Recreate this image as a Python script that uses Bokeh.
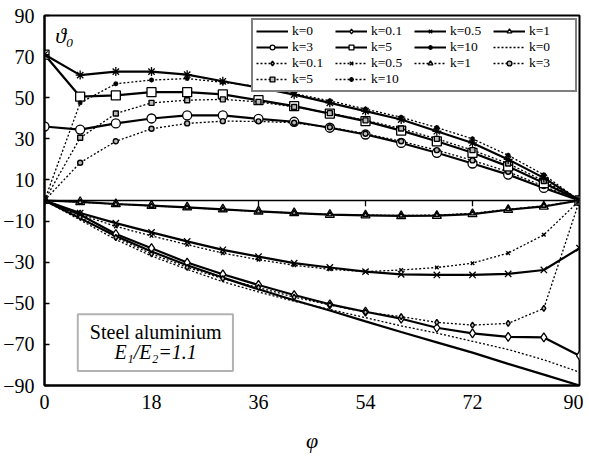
from bokeh.plotting import figure
from bokeh.models import Range1d, Legend, LegendItem, Label, BoxAnnotation, FixedTicker, Span
from bokeh.embed import file_html
from bokeh.resources import INLINE

# ---------------- data ----------------
phi = [0, 6, 12, 18, 24, 30, 36, 42, 48, 54, 60, 66, 72, 78, 84, 90]

# solid curves
k0_s = [0, -8.7, -17.3, -24.8, -31.5, -37.5, -43.2, -48.5, -53.5, -58.8, -64.0, -69.0, -74.0, -79.5, -84.7, -90]
k01_s = [0, -6.9, -16.3, -23.2, -30.2, -35.9, -41.1, -46.0, -50.5, -54.1, -57.5, -61.9, -64.6, -66.3, -66.6, -75.5]
k05_s = [0, -6.1, -11.0, -15.5, -19.9, -24.0, -27.3, -30.5, -32.6, -34.6, -35.9, -36.2, -36.2, -35.7, -33.8, -23.2]
k1_s = [0, -0.7, -1.7, -2.5, -3.3, -4.3, -5.3, -6.1, -6.9, -7.2, -7.5, -7.4, -6.6, -4.5, -2.9, 0]
k3_s = [36, 34.5, 37.5, 39.9, 41.4, 41.4, 39.7, 38.3, 35.4, 32.1, 28.0, 23.2, 18.0, 12.6, 6.1, 0]
k5_s = [71, 50.5, 51.1, 52.7, 52.7, 51.6, 48.8, 45.9, 42.3, 38.6, 34.0, 28.8, 23.2, 16.6, 8.5, 0]
k10_s = [71, 61.0, 62.7, 62.7, 61.2, 58.0, 55.0, 51.5, 47.5, 43.5, 39.4, 33.7, 28.0, 20.0, 11.0, 0]

# dotted curves
k0_d = [0, -9.5, -19.0, -27.0, -33.5, -39.5, -44.5, -49.0, -53.0, -57.0, -61.0, -64.5, -68.5, -72.5, -77.5, -83.5]
k01_d = [0, -8.0, -18.0, -26.0, -32.5, -38.0, -42.3, -47.0, -50.8, -54.3, -56.5, -59.3, -60.6, -59.8, -52.5, 0]
k05_d = [0, -6.8, -12.6, -17.2, -21.5, -25.6, -28.8, -31.5, -33.5, -34.6, -33.8, -32.6, -30.5, -25.6, -16.7, 0]
k1_d = [0, -0.8, -1.8, -2.6, -3.4, -4.4, -5.3, -6.1, -6.8, -7.1, -7.3, -7.1, -6.3, -4.3, -2.6, 0]
k3_d = [0, 18.4, 28.8, 34.9, 37.5, 38.6, 38.5, 37.8, 35.6, 32.5, 28.8, 24.5, 19.5, 14.0, 7.0, 0]
k5_d = [0, 30.5, 42.3, 47.5, 48.8, 49.2, 48.0, 45.5, 42.5, 39.0, 35.0, 30.0, 24.5, 18.0, 9.5, 0]
k10_d = [0, 47.5, 56.8, 58.6, 59.3, 57.5, 55.5, 52.0, 48.5, 44.5, 40.5, 35.5, 30.0, 22.0, 12.5, 0]

labels = ["k=0", "k=0.1", "k=0.5", "k=1", "k=3", "k=5", "k=10"]
markers = [None, "diamond", "x", "triangle", "circle", "square", "asterisk"]
solid = [k0_s, k01_s, k05_s, k1_s, k3_s, k5_s, k10_s]
dotted = [k0_d, k01_d, k05_d, k1_d, k3_d, k5_d, k10_d]

x_ticks = [0, 18, 36, 54, 72, 90]
y_ticks = [-90, -70, -50, -30, -10, 10, 30, 50, 70, 90]

FONT = "'Liberation Serif'"

p = figure(frame_width=535, frame_height=370, output_backend="svg", toolbar_location=None,
           x_range=Range1d(0, 90), y_range=Range1d(-90, 90),
           min_border_left=44, min_border_top=15, min_border_right=4, min_border_bottom=56)
p.background_fill_color = "white"
p.border_fill_color = "white"
p.outline_line_color = "black"
p.outline_line_width = 2
p.xgrid.visible = False
p.ygrid.visible = False

p.xaxis.ticker = FixedTicker(ticks=x_ticks)
p.yaxis.ticker = FixedTicker(ticks=y_ticks)
for ax in (p.xaxis[0], p.yaxis[0]):
    ax.axis_line_color = "black"
    ax.axis_line_width = 2
    ax.major_tick_line_color = "black"
    ax.major_tick_line_width = 1.5
    ax.minor_tick_line_color = None
    ax.major_label_text_font = FONT
    ax.major_label_text_font_size = "20px"
    ax.major_label_text_color = "black"
p.xaxis.major_tick_in = 0
p.xaxis.major_tick_out = 0
p.xaxis.major_label_standoff = 9
p.yaxis.major_tick_in = 5
p.yaxis.major_tick_out = 0
p.yaxis.major_label_standoff = 10
p.xaxis.axis_label = "φ"
p.xaxis.axis_label_text_font = FONT
p.xaxis.axis_label_text_font_style = "italic"
p.xaxis.axis_label_text_font_size = "22px"
p.xaxis.axis_label_text_color = "black"
p.xaxis.axis_label_standoff = 16

# zero line with its ticks
p.add_layout(Span(location=0, dimension="width", line_color="black", line_width=1.5))
inner = x_ticks[1:-1]
p.segment(x0=inner, y0=[0] * len(inner), x1=inner, y1=[-2.8] * len(inner),
          line_color="black", line_width=1.3)

solid_items = []
dotted_items = []
for lab, mk, ys, yd in zip(labels, markers, solid, dotted):
    r1 = p.line(phi, ys, line_color="black", line_width=2.2)
    rs = [r1]
    if mk:
        rs.append(p.scatter(phi, ys, marker=mk, size=9,
                            line_color="black", line_width=1.3, fill_color="white"))
    solid_items.append(LegendItem(label=lab, renderers=rs))
    r2 = p.line(phi, yd, line_color="black", line_width=1.3, line_dash="2 2")
    rd = [r2]
    if mk:
        rd.append(p.scatter(phi, yd, marker=mk, size=5 if mk != "diamond" else 6,
                            line_color="black", line_width=1.4, fill_color="#bbbbbb"))
    dotted_items.append(LegendItem(label=lab, renderers=rd))

legend = Legend(items=solid_items + dotted_items, orientation="horizontal", ncols=4,
                location=(207, 293), label_text_font=FONT, label_text_font_size="13.5px",
                label_text_color="black", label_height=12, glyph_height=12, glyph_width=32,
                label_standoff=4, label_width=43, spacing=0, padding=3, margin=0,
                border_line_color="black", border_line_width=2,
                background_fill_color="white", background_fill_alpha=1.0)
p.add_layout(legend)

# theta label
p.add_layout(Label(x=1.8, y=80.5, text="ϑ₀", text_font=FONT, text_font_style="italic",
                   text_font_size="22px", text_baseline="middle", text_color="black"))

# material box
p.add_layout(BoxAnnotation(left=5.6, right=31.7, top=-55.3, bottom=-83.0,
                           fill_color="white", fill_alpha=1.0,
                           line_color="black", line_width=2))
p.add_layout(Label(x=18.7, y=-64.0, text="Steel aluminium", text_font=FONT,
                   text_font_size="20px", text_align="center", text_baseline="middle",
                   text_color="black"))
p.add_layout(Label(x=18.7, y=-73.8, text="E₁/E₂=1.1", text_font=FONT, text_font_style="italic",
                   text_font_size="20px", text_align="center", text_baseline="middle",
                   text_color="black"))

open("out.html", "w").write(file_html(p, INLINE))
